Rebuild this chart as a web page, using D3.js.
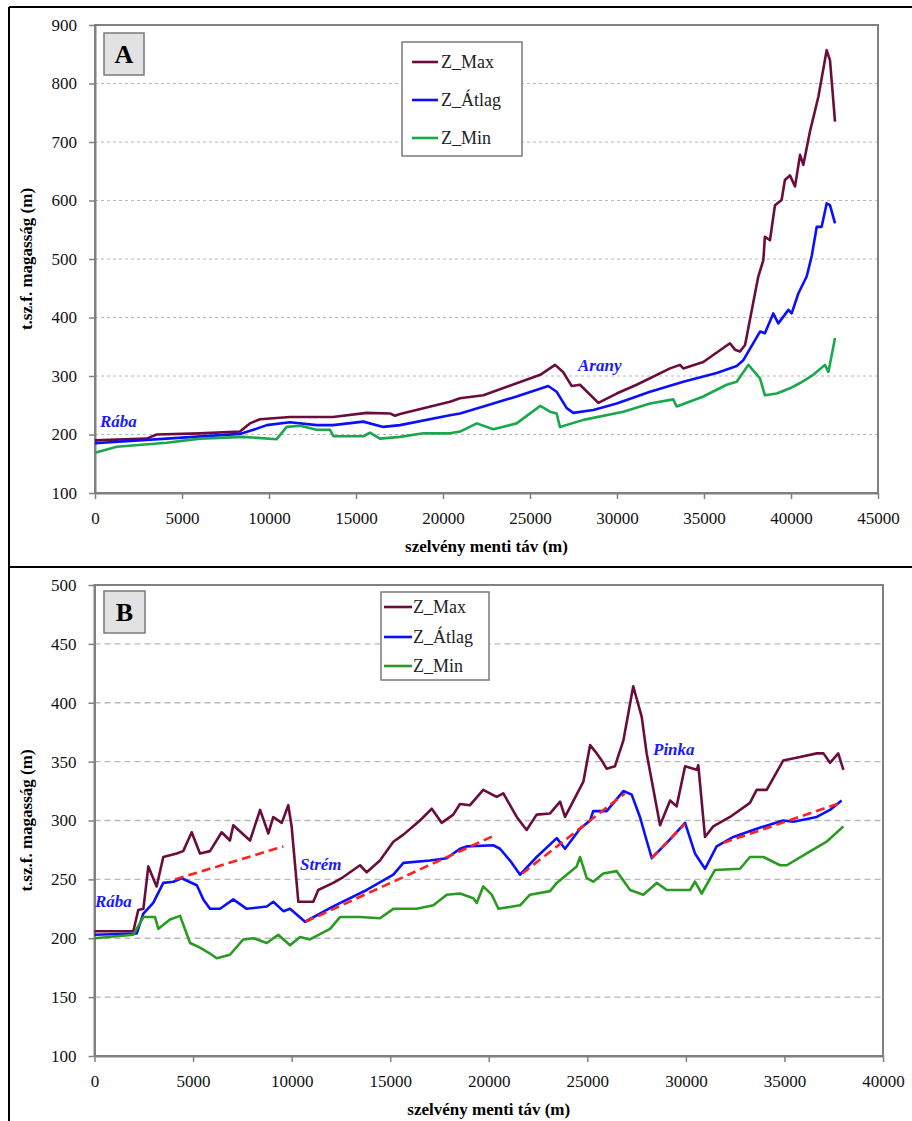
<!DOCTYPE html>
<html>
<head>
<meta charset="utf-8">
<script src="https://cdn.jsdelivr.net/npm/d3@7"></script>
<style>
  body { margin: 0; background: #fff; }
  svg { display: block; }
  svg text { font-family: "Liberation Serif", "Times New Roman", serif !important; }
</style>
</head>
<body>
<svg id="chart" width="912" height="1121"></svg>
<script>
// Panel A data  [distance m, elevation m]
const aMax = [[0,190],[2970,193],[3540,200],[6030,202],[8330,205],[8900,219],[9480,226],[11200,230],[13680,230],[15610,237],[16950,236],[17240,232],[17530,235],[20400,256],[20980,262],[22320,267],[25590,302],[26440,319],[26900,307],[27390,283],[27870,285],[28930,254],[29980,270],[31130,285],[33050,313],[33620,319],[33810,313],[34960,324],[36490,356],[36780,345],[37070,342],[37360,353],[37930,441],[38120,470],[38410,498],[38500,538],[38790,532],[39080,592],[39460,601],[39650,635],[39940,643],[40230,624],[40520,678],[40710,661],[41090,718],[41570,777],[42050,857],[42240,840],[42530,735]];
const aAvg = [[0,185],[4120,193],[8330,201],[9100,208],[9870,216],[11210,221],[12740,216],[13680,216],[15420,222],[16570,213],[17530,216],[20400,233],[20980,236],[22320,248],[24230,265],[26050,283],[26530,273],[27110,245],[27490,237],[28640,242],[29980,253],[31900,273],[33810,290],[35730,305],[36880,317],[37260,327],[38220,376],[38500,373],[38980,407],[39270,390],[39850,413],[40040,407],[40420,441],[40900,470],[41190,505],[41480,555],[41760,555],[42050,595],[42240,592],[42530,561]];
const aMin = [[0,169],[1250,179],[4120,186],[6030,193],[8530,196],[10440,192],[11020,213],[11780,215],[12740,208],[13510,208],[13700,197],[15420,197],[15800,203],[16380,193],[17530,196],[18870,202],[20400,202],[20980,205],[21940,219],[22890,209],[24230,219],[25590,249],[26150,239],[26530,236],[26720,213],[28070,225],[30360,239],[31900,253],[33230,260],[33430,248],[34960,265],[36300,285],[36880,290],[37550,319],[38220,296],[38500,267],[39180,270],[39940,279],[40520,288],[41280,302],[41950,319],[42150,307],[42530,365]];

// Panel B data
const bMax = [[0,206],[1970,206],[2220,224],[2480,225],[2730,261],[3150,244],[3490,269],[4170,272],[4500,274],[4930,290],[5350,272],[5860,274],[6450,290],[6870,283],[7040,296],[7890,283],[8400,309],[8820,289],[9070,303],[9500,298],[9830,313],[10000,295],[10340,231],[11100,231],[11350,241],[12110,247],[12620,252],[13470,262],[13810,256],[14480,266],[15160,282],[15670,288],[16510,300],[17110,310],[17610,298],[18200,305],[18540,314],[19050,313],[19720,326],[20400,320],[20740,323],[21420,303],[21920,292],[22430,305],[23110,306],[23620,316],[23870,303],[24800,333],[25140,364],[25480,357],[25730,351],[25980,344],[26400,346],[26830,368],[27330,414],[27760,388],[28010,357],[28690,296],[29200,317],[29530,312],[29960,346],[30550,343],[30630,347],[30970,286],[31390,295],[32240,303],[33250,315],[33590,326],[34100,326],[34940,351],[35790,354],[36640,357],[36980,357],[37310,349],[37730,357],[37990,343]];
const bAvg = [[0,203],[2140,204],[2480,221],[2980,230],[3490,247],[4000,248],[4420,251],[5190,245],[5520,233],[5860,225],[6370,225],[7040,233],[7720,225],[8740,227],[9070,231],[9580,223],[9920,225],[10680,214],[12110,227],[13810,241],[15160,254],[15670,264],[17020,266],[17870,268],[18540,276],[18880,278],[20230,279],[20570,276],[21080,266],[21590,254],[22430,269],[23450,285],[23870,276],[24630,293],[25140,300],[25300,308],[25980,308],[26830,325],[27250,322],[27670,303],[28010,283],[28270,268],[29030,281],[29960,298],[30460,272],[30970,259],[31560,278],[32410,286],[33590,293],[34940,300],[35450,299],[36640,303],[37310,309],[37900,317]];
const bMin = [[0,200],[1970,203],[2480,218],[3070,218],[3240,208],[3830,216],[4340,219],[4850,196],[5350,192],[5860,187],[6200,183],[6870,186],[7550,199],[8060,200],[8740,196],[9320,203],[9920,194],[10430,201],[10930,199],[11950,208],[12450,218],[13470,218],[14480,217],[15160,225],[16350,225],[17190,228],[17870,237],[18540,238],[19220,234],[19390,230],[19720,244],[20150,237],[20490,225],[21590,228],[22090,237],[23110,240],[23450,247],[24460,261],[24630,269],[24970,251],[25300,248],[25810,255],[26490,257],[27170,241],[27840,237],[28520,247],[29030,241],[30210,241],[30460,248],[30800,238],[31480,258],[32750,259],[33250,269],[33930,269],[34780,262],[35120,262],[36130,272],[37140,282],[37990,295]];
// red dashed trend segments on Z_Atlag (panel B)
const bTrends = [[[4080,250],[9580,278]],[[10700,214],[20250,287]],[[21700,255],[26900,323]],[[28250,268],[29950,297]],[[31900,281],[37850,315]]];

const seriesNames = ['Z_Max', 'Z_Átlag', 'Z_Min'];
const xTicksA = d3.range(0, 45001, 5000);
const yTicksA = d3.range(100, 901, 100);
const xTicksB = d3.range(0, 40001, 5000);
const yTicksB = d3.range(100, 501, 50);

const serif = '"Liberation Serif", "Times New Roman", serif';
const svg = d3.select('#chart').attr('font-family', serif);

// outer frames
svg.append('line').attr('x1', 9).attr('x2', 912).attr('y1', 7).attr('y2', 7).attr('stroke', '#000').attr('stroke-width', 2);
svg.append('line').attr('x1', 9).attr('x2', 912).attr('y1', 567).attr('y2', 567).attr('stroke', '#000').attr('stroke-width', 2);
svg.append('line').attr('x1', 9).attr('x2', 9).attr('y1', 7).attr('y2', 1121).attr('stroke', '#000').attr('stroke-width', 2);

function drawPanel(cfg) {
    const x = d3.scaleLinear().domain(cfg.xDomain).range([cfg.left, cfg.right]);
    const y = d3.scaleLinear().domain(cfg.yDomain).range([cfg.bottom, cfg.top]);
    const g = svg.append('g');

    // grid lines
    g.append('g')
        .selectAll('line')
        .data(cfg.yTicks.slice(1, -1))
        .join('line')
        .attr('x1', cfg.left).attr('x2', cfg.right)
        .attr('y1', d => y(d)).attr('y2', d => y(d))
        .attr('stroke', '#b8b8b8')
        .attr('stroke-width', cfg.gridWidth)
        .attr('stroke-dasharray', cfg.gridDash);

    // plot border
    g.append('rect')
        .attr('x', cfg.left).attr('y', cfg.top)
        .attr('width', cfg.right - cfg.left).attr('height', cfg.bottom - cfg.top)
        .attr('fill', 'none').attr('stroke', '#808080').attr('stroke-width', 2);

    // axes
    const xAxis = g.append('g')
        .attr('transform', `translate(0,${cfg.bottom})`)
        .call(d3.axisBottom(x).tickValues(cfg.xTicks).tickSize(6).tickSizeOuter(0).tickPadding(13).tickFormat(d3.format('d')));
    const yAxis = g.append('g')
        .attr('transform', `translate(${cfg.left},0)`)
        .call(d3.axisLeft(y).tickValues(cfg.yTicks).tickSize(6).tickSizeOuter(0).tickPadding(12).tickFormat(d3.format('d')));
    [xAxis, yAxis].forEach(ax => {
        ax.attr('font-family', serif).attr('font-size', 17);
        ax.select('.domain').attr('stroke', '#808080').attr('stroke-width', 2);
        ax.selectAll('.tick line').attr('stroke', '#808080').attr('stroke-width', 1.5);
        ax.selectAll('.tick text').attr('fill', '#111');
    });

    // axis titles
    g.append('text')
        .attr('x', (cfg.left + cfg.right) / 2)
        .attr('y', cfg.bottom + 59)
        .attr('text-anchor', 'middle')
        .attr('font-weight', 'bold')
        .attr('font-size', 17)
        .text('szelvény menti táv (m)');
    g.append('text')
        .attr('transform', `translate(32,${(cfg.top + cfg.bottom) / 2}) rotate(-90)`)
        .attr('text-anchor', 'middle')
        .attr('font-weight', 'bold')
        .attr('font-size', 17)
        .text('t.sz.f. magasság (m)');

    // series lines
    const line = d3.line().x(d => x(d[0])).y(d => y(d[1]));
    cfg.series.forEach((s, i) => {
        g.append('path')
            .datum(s)
            .attr('fill', 'none')
            .attr('stroke', cfg.colors[i])
            .attr('stroke-width', 2.6)
            .attr('stroke-linejoin', 'round')
            .attr('d', line);
    });

    // trend lines
    (cfg.trends || []).forEach(t => {
        g.append('path')
            .datum(t)
            .attr('fill', 'none')
            .attr('stroke', '#ff2020')
            .attr('stroke-width', 2.6)
            .attr('stroke-dasharray', '9,5')
            .attr('d', line);
    });

    // river names
    cfg.labels.forEach(l => {
        g.append('text')
            .attr('x', l.x).attr('y', l.y)
            .attr('fill', '#1a1aff')
            .attr('font-weight', 'bold')
            .attr('font-style', 'italic')
            .attr('font-size', 17)
            .text(l.text);
    });

    // panel letter box
    const lb = cfg.letterBox;
    g.append('rect')
        .attr('x', lb.x).attr('y', lb.y).attr('width', lb.w).attr('height', lb.h)
        .attr('fill', '#e2e2e2').attr('stroke', '#7a7a7a').attr('stroke-width', 1.5);
    g.append('text')
        .attr('x', lb.x + lb.w / 2).attr('y', lb.y + lb.h / 2 + 9)
        .attr('text-anchor', 'middle')
        .attr('font-weight', 'bold')
        .attr('font-size', 26)
        .text(cfg.letter);

    // legend
    const lg = cfg.legend;
    g.append('rect')
        .attr('x', lg.x).attr('y', lg.y).attr('width', lg.w).attr('height', lg.h)
        .attr('fill', '#fff').attr('stroke', '#7a7a7a').attr('stroke-width', 1.5);
    seriesNames.forEach((name, i) => {
        const yy = lg.rows[i];
        g.append('line')
            .attr('x1', lg.lineX0).attr('x2', lg.lineX1)
            .attr('y1', yy).attr('y2', yy)
            .attr('stroke', cfg.colors[i]).attr('stroke-width', 2.6);
        g.append('text')
            .attr('x', lg.textX).attr('y', yy + 6)
            .attr('fill', '#222')
            .attr('font-size', 18)
            .text(name);
    });
}

drawPanel({
    letter: 'A',
    left: 95, right: 878, top: 25, bottom: 493,
    xDomain: [0, 45000], yDomain: [100, 900],
    xTicks: xTicksA, yTicks: yTicksA,
    gridDash: '3,3', gridWidth: 1,
    series: [aMax, aAvg, aMin],
    colors: ['#6b0d3c', '#0a10ff', '#1aa84c'],
    labels: [{ text: 'Rába', x: 100, y: 427 }, { text: 'Arany', x: 578, y: 371 }],
    letterBox: { x: 104, y: 33, w: 40, h: 42 },
    legend: { x: 402, y: 42, w: 120, h: 114, rows: [62, 100, 138], lineX0: 412, lineX1: 438, textX: 441 }
});

drawPanel({
    letter: 'B',
    left: 94.5, right: 883, top: 585, bottom: 1056,
    xDomain: [0, 40000], yDomain: [100, 500],
    xTicks: xTicksB, yTicks: yTicksB,
    gridDash: '6,4', gridWidth: 1.3,
    series: [bMax, bAvg, bMin],
    colors: ['#6b0d3c', '#0a10ff', '#2a9a22'],
    trends: bTrends,
    labels: [{ text: 'Rába', x: 95, y: 907 }, { text: 'Strém', x: 300, y: 870 }, { text: 'Pinka', x: 653, y: 755 }],
    letterBox: { x: 104, y: 591, w: 41, h: 42 },
    legend: { x: 381, y: 592, w: 108, h: 88, rows: [607, 637, 666], lineX0: 384, lineX1: 412, textX: 413 }
});
</script>
</body>
</html>
